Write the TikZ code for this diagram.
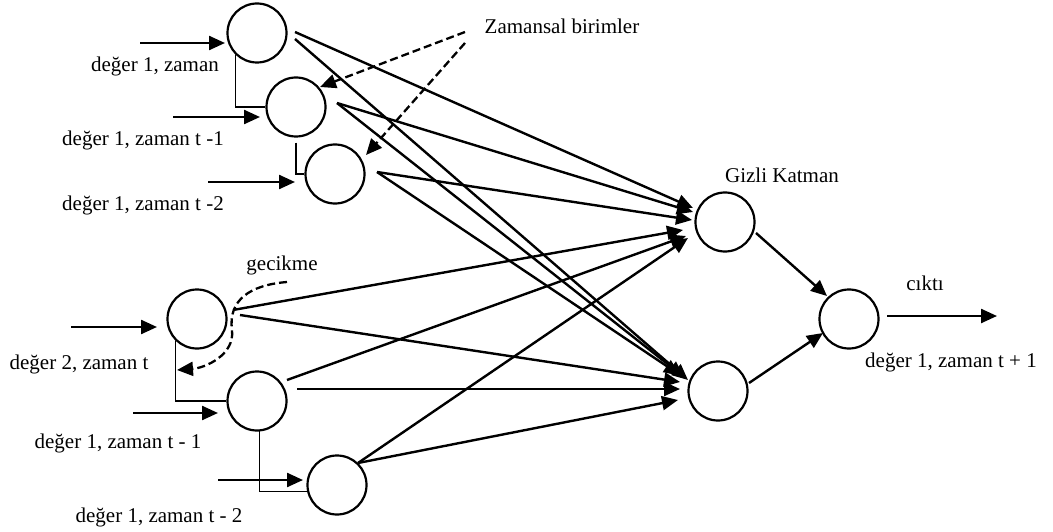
\documentclass[tikz,border=0pt]{standalone}
\usepackage{fontspec}
\setmainfont{Liberation Serif}
\usetikzlibrary{arrows.meta,calc}
\begin{document}
\begin{tikzpicture}[x=1pt,y=-1pt,
  neuron/.style={circle,draw,line width=2.2pt,minimum size=59pt,inner sep=0pt},
  conn/.style={line width=2.4pt,-{Triangle[length=16pt,width=14pt]}},
  delayline/.style={line width=1.1pt},
  dsh/.style={line width=2.3pt,dash pattern=on 8pt off 4pt,-{Triangle[length=16pt,width=14pt]}},
  lbl/.style={font=\fontsize{21}{24}\selectfont,inner sep=0pt}
]
\useasboundingbox (0,0) rectangle (1053,532);

% neurons
\node[neuron] (A1) at (257,33) {};
\node[neuron] (A2) at (296,107) {};
\node[neuron] (A3) at (335,174) {};
\node[neuron] (B1) at (197,319) {};
\node[neuron] (B2) at (257,401) {};
\node[neuron] (B3) at (337,485) {};
\node[neuron] (H1) at (725,222) {};
\node[neuron] (H2) at (718,391) {};
\node[neuron] (O)  at (849,319) {};

% labels
\node[lbl] (l1) at (155,66) {değer 1, zaman};
\node[lbl] (l2) at (143,140) {değer 1, zaman t -1};
\node[lbl] (l3) at (143,205) {değer 1, zaman t -2};
\node[lbl] (l4) at (79,364) {değer 2, zaman t};
\node[lbl] (l5) at (118,443) {değer 1, zaman t - 1};
\node[lbl] (l6) at (159,517) {değer 1, zaman t - 2};
\node[lbl] (zb) at (562,26) {Zamansal birimler};
\node[lbl] (gc) at (282,265) {gecikme};
\node[lbl] (gk) at (782,175) {Gizli Katman};
\node[lbl] (ck) at (925,283) {cıktı};
\node[lbl] (l7) at (951,362) {değer 1, zaman t + 1};

% free ends
\coordinate (iA1) at (140,43);
\coordinate (iA2) at (173,117);
\coordinate (iA3) at (208,182);
\coordinate (iB1) at (71,327);
\coordinate (iB2) at (133,413);
\coordinate (iB3) at (218,480);
\coordinate (out) at (997,316);
\coordinate (z1) at (465,32);
\coordinate (z2) at (465,43);
\coordinate (g0) at (287,282);
\coordinate (g1) at (177,370);

% inputs
\draw[conn] (iA1) -- ($(A1)+(-32,10)$);
\draw[conn] (iA2) -- ($(A2)+(-36,10)$);
\draw[conn] (iA3) -- ($(A3)+(-40,8)$);
\draw[conn] (iB1) -- ($(B1)+(-40,8)$);
\draw[conn] (iB2) -- ($(B2)+(-39,12)$);
\draw[conn] (iB3) -- ($(B3)+(-34,-5)$);

% delay lines
\draw[delayline] (A1.226) |- (A2.west);
\draw[delayline,shorten <=5pt] (A2.south) |- (A3.west);
\draw[delayline] (B1.226) |- (B2.west);
\draw[delayline] (B2.275) |- (B3.193);

% to hidden layer
\draw[conn] ($(A1)+(38,-1)$) -- ($(H1)+(-32,-14)$);
\draw[conn] ($(A1)+(38,6)$) -- ($(H2)+(-30,-11)$);
\draw[conn] ($(A2)+(41,-4)$) -- ($(H1)+(-32,-10)$);
\draw[conn] ($(A2)+(41,-4)$) -- ($(H2)+(-34,-14)$);
\draw[conn] ($(A3)+(42,-2)$) -- ($(H1)+(-33,-2)$);
\draw[conn] ($(A3)+(42,-2)$) -- ($(H2)+(-38,-16)$);
\draw[conn] ($(B1)+(36,-9)$) -- ($(H1)+(-42,8)$);
\draw[conn] ($(B1)+(43,-4)$) -- ($(H2)+(-38,-9)$);
\draw[conn] ($(B2)+(30,-21)$) -- ($(H1)+(-39,14)$);
\draw[conn] ($(B2)+(40,-12)$) -- ($(H2)+(-38,-2)$);
\draw[conn] ($(B3)+(21,-22)$) -- ($(H1)+(-37,16)$);
\draw[conn] ($(B3)+(21,-22)$) -- ($(H2)+(-40,9)$);

% to output
\draw[conn] ($(H1)+(31,11)$) -- ($(O)+(-22,-23)$);
\draw[conn] ($(H2)+(31,-8)$) -- ($(O)+(-26,14)$);
\draw[conn] ($(O)+(38,-3)$) -- (out);

% dashed
\draw[dsh] (z1) -- ($(A2)+(24,-20)$);
\draw[dsh] (z2) -- ($(A3)+(31,-19)$);
\draw[dsh] (g0) .. controls (250,285) and (228,300) .. (232,330) .. controls (235,355) and (205,368) .. (g1);
\end{tikzpicture}
\end{document}
